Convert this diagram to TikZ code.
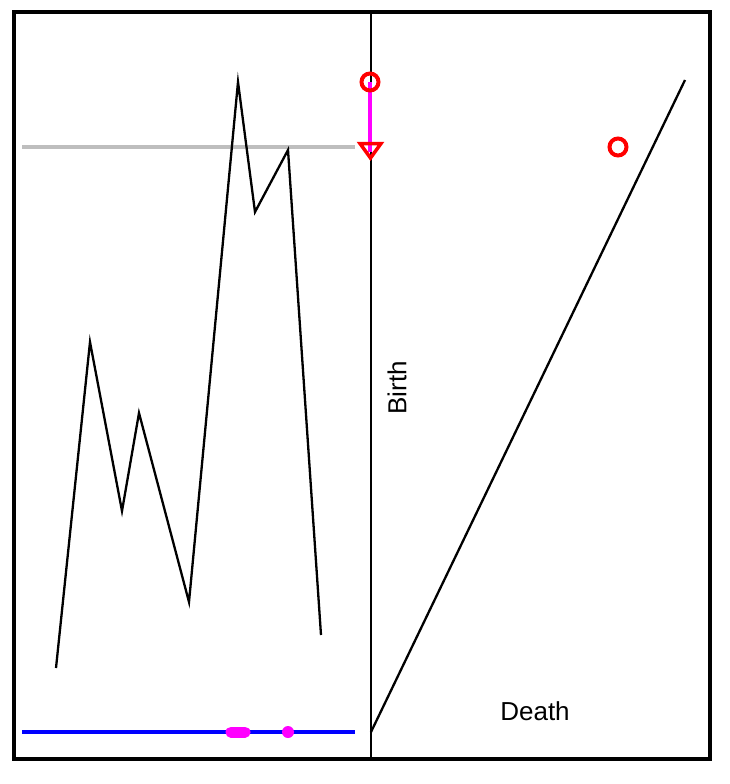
\documentclass[tikz,border=0pt]{standalone}
\usepackage{fontspec}
\setmainfont{Liberation Sans}
\definecolor{grayln}{RGB}{190,190,190}
\definecolor{mag}{RGB}{255,0,255}
\definecolor{redc}{RGB}{255,0,0}
\definecolor{bluec}{RGB}{0,0,255}
\tikzset{
  frame/.style={line width=3.2pt},
  curve/.style={line width=2.3pt, line join=miter},
  redcirc/.style={circle, draw=redc, line width=4pt, minimum size=17pt, inner sep=0pt},
  redtri/.style={draw=redc, line width=3.5pt, line join=miter},
  lbl/.style={font=\fontsize{26}{30}\selectfont, inner sep=0pt}
}
\begin{document}
\begin{tikzpicture}[x=1pt,y=-1pt]
\useasboundingbox (0,0) rectangle (730,784);
% frame
\draw[frame] (14,12) rectangle (710,759);
\coordinate (vt) at (371,12);
\coordinate (vb) at (371,759);
\draw[line width=2.3pt] (vt) -- (vb);
% gray and blue lines
\coordinate (g1) at (22,147); \coordinate (g2) at (355,147);
\draw[grayln, line width=3.5pt] (g1) -- (g2);
\coordinate (b1) at (22,732); \coordinate (b2) at (355,732);
\draw[bluec, line width=4.5pt] (b1) -- (b2);
\coordinate (m1) at (231,732); \coordinate (m2) at (245,732);
\draw[mag, line width=11pt, line cap=round] (m1) -- (m2);
\fill[mag] (288,732) circle (6pt);
% signal
\draw[curve] (56,668) -- (90,342) -- (122,511) -- (139,413) -- (189,602) -- (238,82) -- (255,212) -- (288,150) -- (321,635);
% diagonal
\coordinate (d1) at (371,732); \coordinate (d2) at (685,80);
\draw[line width=2.3pt] (d1) -- (d2);
% persistence point and arrow
\coordinate (c1) at (370,82);
\coordinate (t1) at (370,152);
\draw[mag, line width=4.5pt] (c1) -- (t1);
\node[redcirc] (c1n) at (c1) {};
\coordinate (tl) at (360,143.5);
\coordinate (tr) at (381,143.5);
\coordinate (ta) at (370.5,158);
\draw[redtri] (tl) -- (tr) -- (ta) -- cycle;
\node[redcirc] (c2) at (618,147) {};
% labels
\node[lbl, rotate=90] (birth) at (397,388) {Birth};
\node[lbl] (death) at (535,711) {Death};
\end{tikzpicture}
\end{document}
